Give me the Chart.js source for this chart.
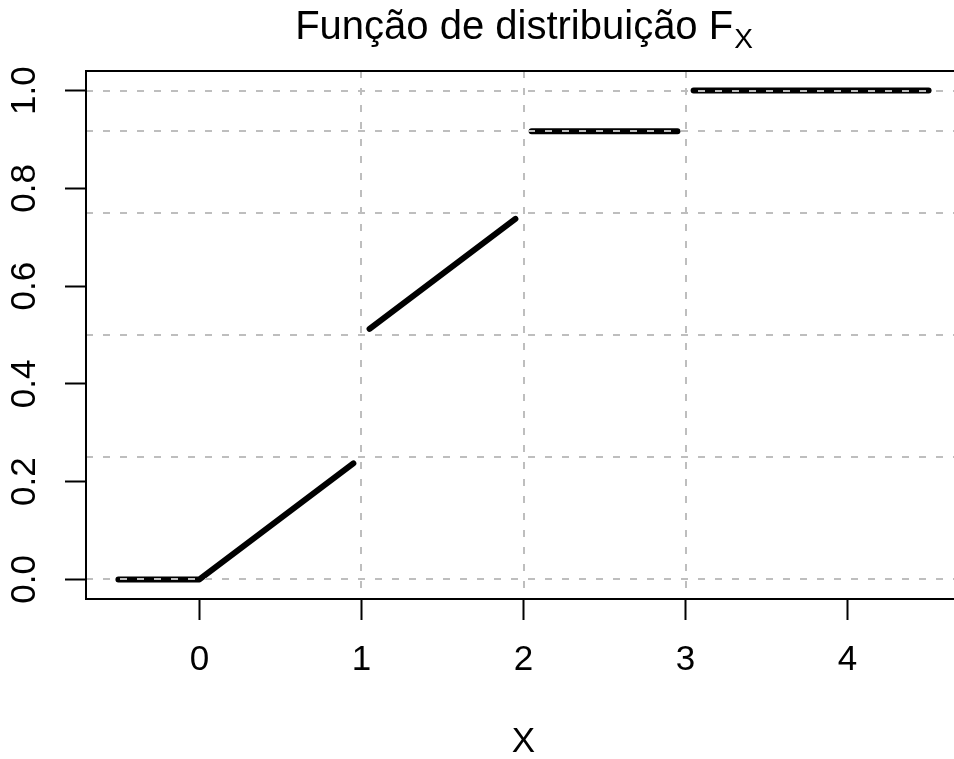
<!DOCTYPE html>
<html>
<head>
<meta charset="utf-8">
<script src="https://cdn.jsdelivr.net/npm/chart.js@4.4.0/dist/chart.umd.min.js"></script>
<style>
  html, body { margin: 0; padding: 0; background: #fff; overflow: hidden; }
</style>
</head>
<body>
<canvas id="cdfChart" width="975" height="759"></canvas>
<script>
// axis ticks / grid positions
const xTicks = [0, 1, 2, 3, 4];
const yTicks = [0, 0.2, 0.4, 0.6, 0.8, 1.0];
const yTickLabels = ["0.0", "0.2", "0.4", "0.6", "0.8", "1.0"];
const gridX = [1, 2, 3];
const gridY = [0, 0.25, 0.5, 0.75, 0.9167, 1];

// pieces of F_X
const piece1X = [-0.5, 0, 0.95];
const piece1Y = [0, 0, 0.2375];
const piece2X = [1.05, 1.95];
const piece2Y = [0.5125, 0.7375];
const piece3X = [2.05, 2.95];
const piece3Y = [0.9167, 0.9167];
const piece4X = [3.05, 4.5];
const piece4Y = [1, 1];

const FONT = "'Liberation Sans', Arial, Helvetica, sans-serif";
const TICK_SIZE = 35;
const TITLE_SIZE = 40;

const pieces = [[piece1X, piece1Y], [piece2X, piece2Y], [piece3X, piece3Y], [piece4X, piece4Y]];
const datasets = pieces.map(([xs, ys]) => ({
  data: xs.map((x, i) => ({ x: x, y: ys[i] })),
  showLine: true,
  borderColor: "#000",
  borderWidth: 6,
  borderCapStyle: "round",
  borderJoinStyle: "round",
  pointRadius: 0,
  tension: 0,
}));

// dashed grid + box, drawn over the lines like abline() does in R
const gridAndBox = {
  id: "gridAndBox",
  afterDatasetsDraw(chart) {
    const { ctx, chartArea: a, scales } = chart;
    ctx.save();
    ctx.strokeStyle = "#bebebe";
    ctx.lineWidth = 2;
    ctx.setLineDash([7, 10]);
    gridY.forEach((v) => {
      const y = Math.round(scales.y.getPixelForValue(v));
      ctx.beginPath();
      ctx.moveTo(a.left, y);
      ctx.lineTo(a.right, y);
      ctx.stroke();
    });
    gridX.forEach((v) => {
      const x = Math.round(scales.x.getPixelForValue(v));
      ctx.beginPath();
      ctx.moveTo(x, a.top);
      ctx.lineTo(x, a.bottom);
      ctx.stroke();
    });
    ctx.setLineDash([]);
    ctx.strokeStyle = "#000";
    ctx.lineWidth = 2;
    ctx.strokeRect(a.left, a.top, a.right - a.left, a.bottom - a.top);
    ctx.restore();
  },
  afterDraw(chart) {
    const { ctx, chartArea: a } = chart;
    const cx = (a.left + a.right) / 2;
    ctx.save();
    ctx.fillStyle = "#000";
    ctx.textBaseline = "alphabetic";
    // title with subscript X
    const main = "Função de distribuição F";
    const sub = "X";
    const subSize = Math.round(TITLE_SIZE * 0.7);
    ctx.font = TITLE_SIZE + "px " + FONT;
    const w1 = ctx.measureText(main).width;
    ctx.font = subSize + "px " + FONT;
    const w2 = ctx.measureText(sub).width;
    const start = cx - (w1 + w2) / 2;
    ctx.textAlign = "left";
    ctx.font = TITLE_SIZE + "px " + FONT;
    ctx.fillText(main, start, 39);
    ctx.font = subSize + "px " + FONT;
    ctx.fillText(sub, start + w1 + 1, 48);
    // x axis label
    ctx.font = TICK_SIZE + "px " + FONT;
    ctx.textAlign = "center";
    ctx.fillText("X", cx, 752);
    ctx.restore();
  },
};

new Chart(document.getElementById("cdfChart").getContext("2d"), {
  type: "scatter",
  data: { datasets: datasets },
  options: {
    responsive: false,
    animation: false,
    layout: { padding: { left: 0, top: 71, right: 975 - 961, bottom: 0 } },
    plugins: { legend: { display: false }, tooltip: { enabled: false }, title: { display: false } },
    scales: {
      x: {
        type: "linear",
        min: -0.7,
        max: 4.7,
        afterBuildTicks: (axis) => { axis.ticks = xTicks.map((v) => ({ value: v })); },
        afterFit: (axis) => { axis.height = 759 - 599; },
        ticks: {
          color: "#000",
          font: { family: FONT, size: TICK_SIZE },
          padding: 19,
          maxRotation: 0,
          autoSkip: false,
        },
        grid: { drawOnChartArea: false, drawTicks: true, tickLength: 21, tickColor: "#000", tickWidth: 2 },
        border: { display: false },
      },
      y: {
        type: "linear",
        min: -0.04,
        max: 1.04,
        afterBuildTicks: (axis) => { axis.ticks = yTicks.map((v) => ({ value: v })); },
        afterFit: (axis) => { axis.width = 86; },
        ticks: {
          color: "#000",
          font: { family: FONT, size: TICK_SIZE },
          padding: 15,
          minRotation: 90,
          maxRotation: 90,
          crossAlign: "center",
          autoSkip: false,
          callback: (v, i) => yTickLabels[i],
        },
        grid: { drawOnChartArea: false, drawTicks: true, tickLength: 21, tickColor: "#000", tickWidth: 2 },
        border: { display: false },
      },
    },
  },
  plugins: [gridAndBox],
});
</script>
</body>
</html>
